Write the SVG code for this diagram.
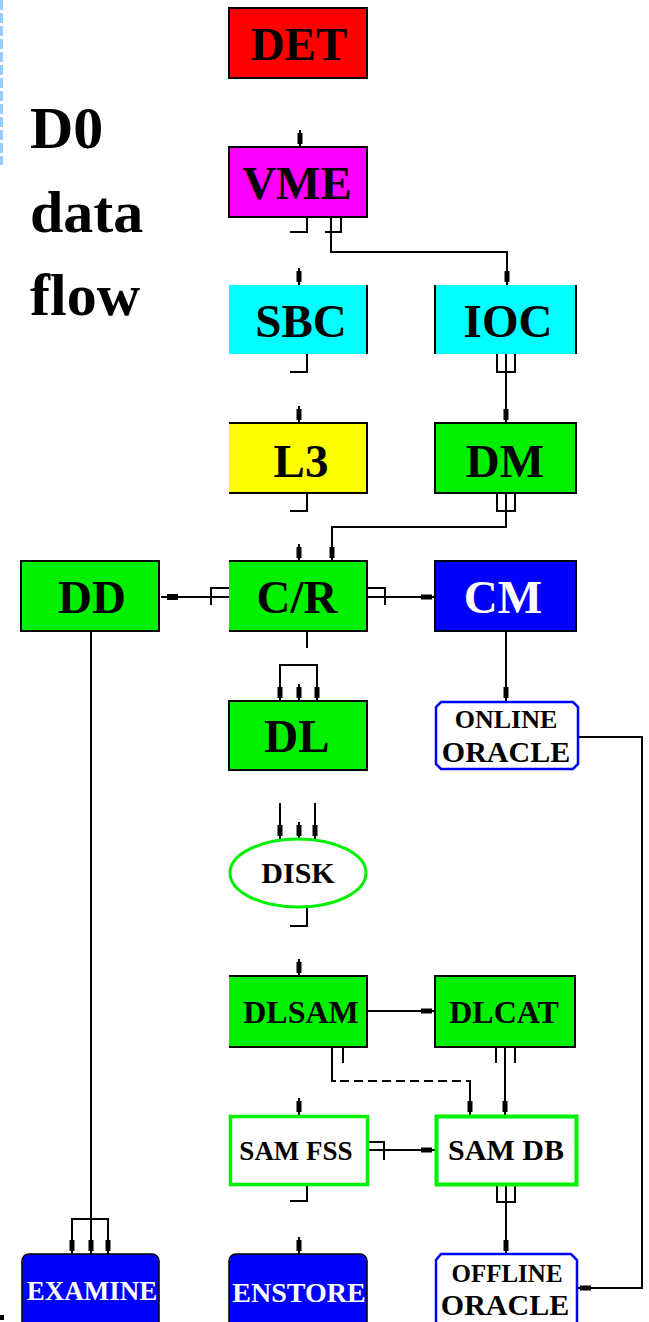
<svg xmlns="http://www.w3.org/2000/svg" width="649" height="1322" viewBox="0 0 649 1322">
<style>
.lbl{font-family:"Liberation Serif","Times New Roman",serif;font-weight:bold;text-anchor:middle;fill:#000}
.big{font-size:47px}
.wht{fill:#fff}
.bd{stroke:#000;stroke-width:2;fill:none}
.ln{stroke:#000;stroke-width:2;fill:none}
.ar{stroke:#000;stroke-width:2;fill:none;marker-end:url(#blk)}
.dash{stroke:#000;stroke-width:2;fill:none;stroke-dasharray:9 5}
.ora{fill:#fff;stroke:#0000ff;stroke-width:2.5}
.sam{fill:#fff;stroke:#00f000;stroke-width:3.5}
</style>
<defs>
<marker id="blk" markerUnits="userSpaceOnUse" viewBox="0 0 14 6" refX="14" refY="3" markerWidth="14" markerHeight="6" orient="auto">
<path d="M0 0.5H11V5.5H0Z" fill="#000"/>
</marker>
</defs>
<rect width="649" height="1322" fill="#fff"/>
<line x1="1.5" y1="0" x2="1.5" y2="165" stroke="#99ccff" stroke-width="3" stroke-dasharray="10 3"/>
<rect x="0" y="1315" width="4" height="5" fill="#000"/>

<g id="title">
<text class="lbl" x="30" y="148" style="font-size:60px;text-anchor:start">D0</text>
<text class="lbl" x="30" y="232" style="font-size:60px;text-anchor:start">data</text>
<text class="lbl" x="30" y="315" style="font-size:60px;text-anchor:start">flow</text>
</g>

<g id="connectors">
<path class="ar" d="M300 130V147"/>
<path class="ar" d="M299 268V285"/>
<path class="ar" d="M299 406V423"/>
<path class="ar" d="M299 544V561"/>
<path class="ar" d="M299 959V976"/>
<path class="ar" d="M299 1098V1115"/>
<path class="ar" d="M299 1237V1254"/>
<path class="ln" d="M307 217V232H290"/>
<path class="ln" d="M341 217V232H325"/>
<path class="ln" d="M307 354V372H290"/>
<path class="ln" d="M307 493V511H290"/>
<path class="ln" d="M307 907V926H290"/>
<path class="ln" d="M307 1186V1201H290"/>
<path class="ar" d="M331 217V252H507V285"/>
<path class="ln" d="M497 354V372H515V354"/>
<path class="ar" d="M506 354V423"/>
<path class="ln" d="M497 493V511H515V493"/>
<path class="ar" d="M506 493V527H332V561"/>
<path class="ln" d="M229 588H211V605"/>
<path class="ln" d="M229 597H161"/>
<rect x="167" y="594" width="11" height="6" fill="#000"/>
<path class="ln" d="M367 588H385V605"/>
<path class="ar" d="M367 597H435"/>
<path class="ln" d="M307 632V648"/>
<path class="ln" d="M280 665H317"/>
<path class="ar" d="M280 664V701"/>
<path class="ar" d="M317 664V701"/>
<path class="ar" d="M299 684V701"/>
<path class="ar" d="M280 803V839"/>
<path class="ar" d="M315 803V839"/>
<path class="ar" d="M299 822V839"/>
<path class="ar" d="M506 632V701"/>
<path class="ar" d="M578 737H642V1288H577"/>
<path class="ar" d="M367 1011H435"/>
<path class="ln" d="M343 1047V1063"/>
<path class="ln" d="M332 1047V1081H336"/>
<path class="dash" d="M340 1081H466"/>
<path class="ar" d="M466 1081H470V1115"/>
<path class="ln" d="M496 1047V1063"/>
<path class="ln" d="M515 1047V1063"/>
<path class="ar" d="M505 1047V1115"/>
<path class="ln" d="M369 1142H384V1160"/>
<path class="ar" d="M369 1150H435"/>
<path class="ln" d="M497 1186V1202H515V1186"/>
<path class="ar" d="M506 1186V1254"/>
<path class="ln" d="M91 632V1219"/>
<path class="ln" d="M72 1219H108"/>
<path class="ar" d="M72 1218V1254"/>
<path class="ar" d="M108 1218V1254"/>
<path class="ar" d="M91 1219V1254"/>
</g>

<g id="DET">
<rect x="229" y="8" width="138" height="70" fill="#ff0000" stroke="#000" stroke-width="2"/>
<text class="lbl big" x="299" y="60">DET</text>
</g>
<g id="VME">
<rect x="229" y="147" width="138" height="70" fill="#ff00ff" stroke="#000" stroke-width="2"/>
<text class="lbl big" x="297" y="199">VME</text>
</g>
<g id="SBC">
<rect x="229" y="285" width="138" height="69" fill="#00ffff"/>
<path class="bd" d="M367 285V354"/>
<text class="lbl big" x="301" y="337">SBC</text>
</g>
<g id="IOC">
<rect x="435" y="285" width="141" height="69" fill="#00ffff"/>
<path class="bd" d="M435 285V354M576 285V354"/>
<text class="lbl big" x="508" y="337">IOC</text>
</g>
<g id="L3">
<rect x="229" y="423" width="138" height="70" fill="#ffff00"/>
<path class="bd" d="M229 423H367V493H229"/>
<text class="lbl big" x="301" y="477">L3</text>
</g>
<g id="DM">
<rect x="435" y="423" width="141" height="70" fill="#00f000" stroke="#000" stroke-width="2"/>
<text class="lbl big" x="505" y="477">DM</text>
</g>
<g id="DD">
<rect x="21" y="561" width="138" height="70" fill="#00f000" stroke="#000" stroke-width="2"/>
<text class="lbl big" x="92" y="613">DD</text>
</g>
<g id="CR">
<rect x="229" y="561" width="138" height="70" fill="#00f000"/>
<path class="bd" d="M229 561H367V631H229"/>
<text class="lbl big" x="297" y="613">C/R</text>
</g>
<g id="CM">
<rect x="435" y="561" width="141" height="70" fill="#0000ff" stroke="#000" stroke-width="2"/>
<text class="lbl big wht" x="503" y="613">CM</text>
</g>
<g id="DL">
<rect x="229" y="701" width="138" height="69" fill="#00f000" stroke="#000" stroke-width="2"/>
<text class="lbl big" x="297" y="752">DL</text>
</g>
<g id="ONLINE_ORACLE">
<path class="ora" d="M441 702H573L578 707V764L573 769H441L436 764V707Z"/>
<text class="lbl" x="506" y="728" style="font-size:26px">ONLINE</text>
<text class="lbl" x="506" y="762" style="font-size:30px">ORACLE</text>
</g>
<g id="DISK">
<ellipse cx="298" cy="873" rx="68" ry="34" fill="#fff" stroke="#00f000" stroke-width="3"/>
<text class="lbl" x="298" y="883" style="font-size:30px">DISK</text>
</g>
<g id="DLSAM">
<rect x="229" y="976" width="138" height="71" fill="#00f000"/>
<path class="bd" d="M229 976H367V1047H229"/>
<text class="lbl" x="301" y="1023" style="font-size:32px">DLSAM</text>
</g>
<g id="DLCAT">
<rect x="435" y="976" width="140" height="71" fill="#00f000" stroke="#000" stroke-width="2"/>
<text class="lbl" x="504" y="1023" style="font-size:32px">DLCAT</text>
</g>
<g id="SAM_FSS">
<rect class="sam" x="230.5" y="1116.5" width="137" height="68"/>
<text class="lbl" x="296" y="1160" style="font-size:27px">SAM FSS</text>
</g>
<g id="SAM_DB">
<rect class="sam" x="436.5" y="1116.5" width="140" height="68" style="stroke-width:4"/>
<text class="lbl" x="506" y="1160" style="font-size:30px">SAM DB</text>
</g>
<g id="EXAMINE">
<rect x="22" y="1254" width="137" height="80" rx="7" fill="#0000ff" stroke="#000" stroke-width="1.5"/>
<text class="lbl wht" x="92" y="1300" style="font-size:27px">EXAMINE</text>
</g>
<g id="ENSTORE">
<rect x="229" y="1254" width="138" height="80" rx="7" fill="#0000ff" stroke="#000" stroke-width="1.5"/>
<text class="lbl wht" x="299" y="1302" style="font-size:28px">ENSTORE</text>
</g>
<g id="OFFLINE_ORACLE">
<path class="ora" d="M441 1254H571L577 1260V1330H436V1260Z"/>
<text class="lbl" x="507" y="1282" style="font-size:25px">OFFLINE</text>
<text class="lbl" x="505" y="1315" style="font-size:30px">ORACLE</text>
</g>
</svg>
